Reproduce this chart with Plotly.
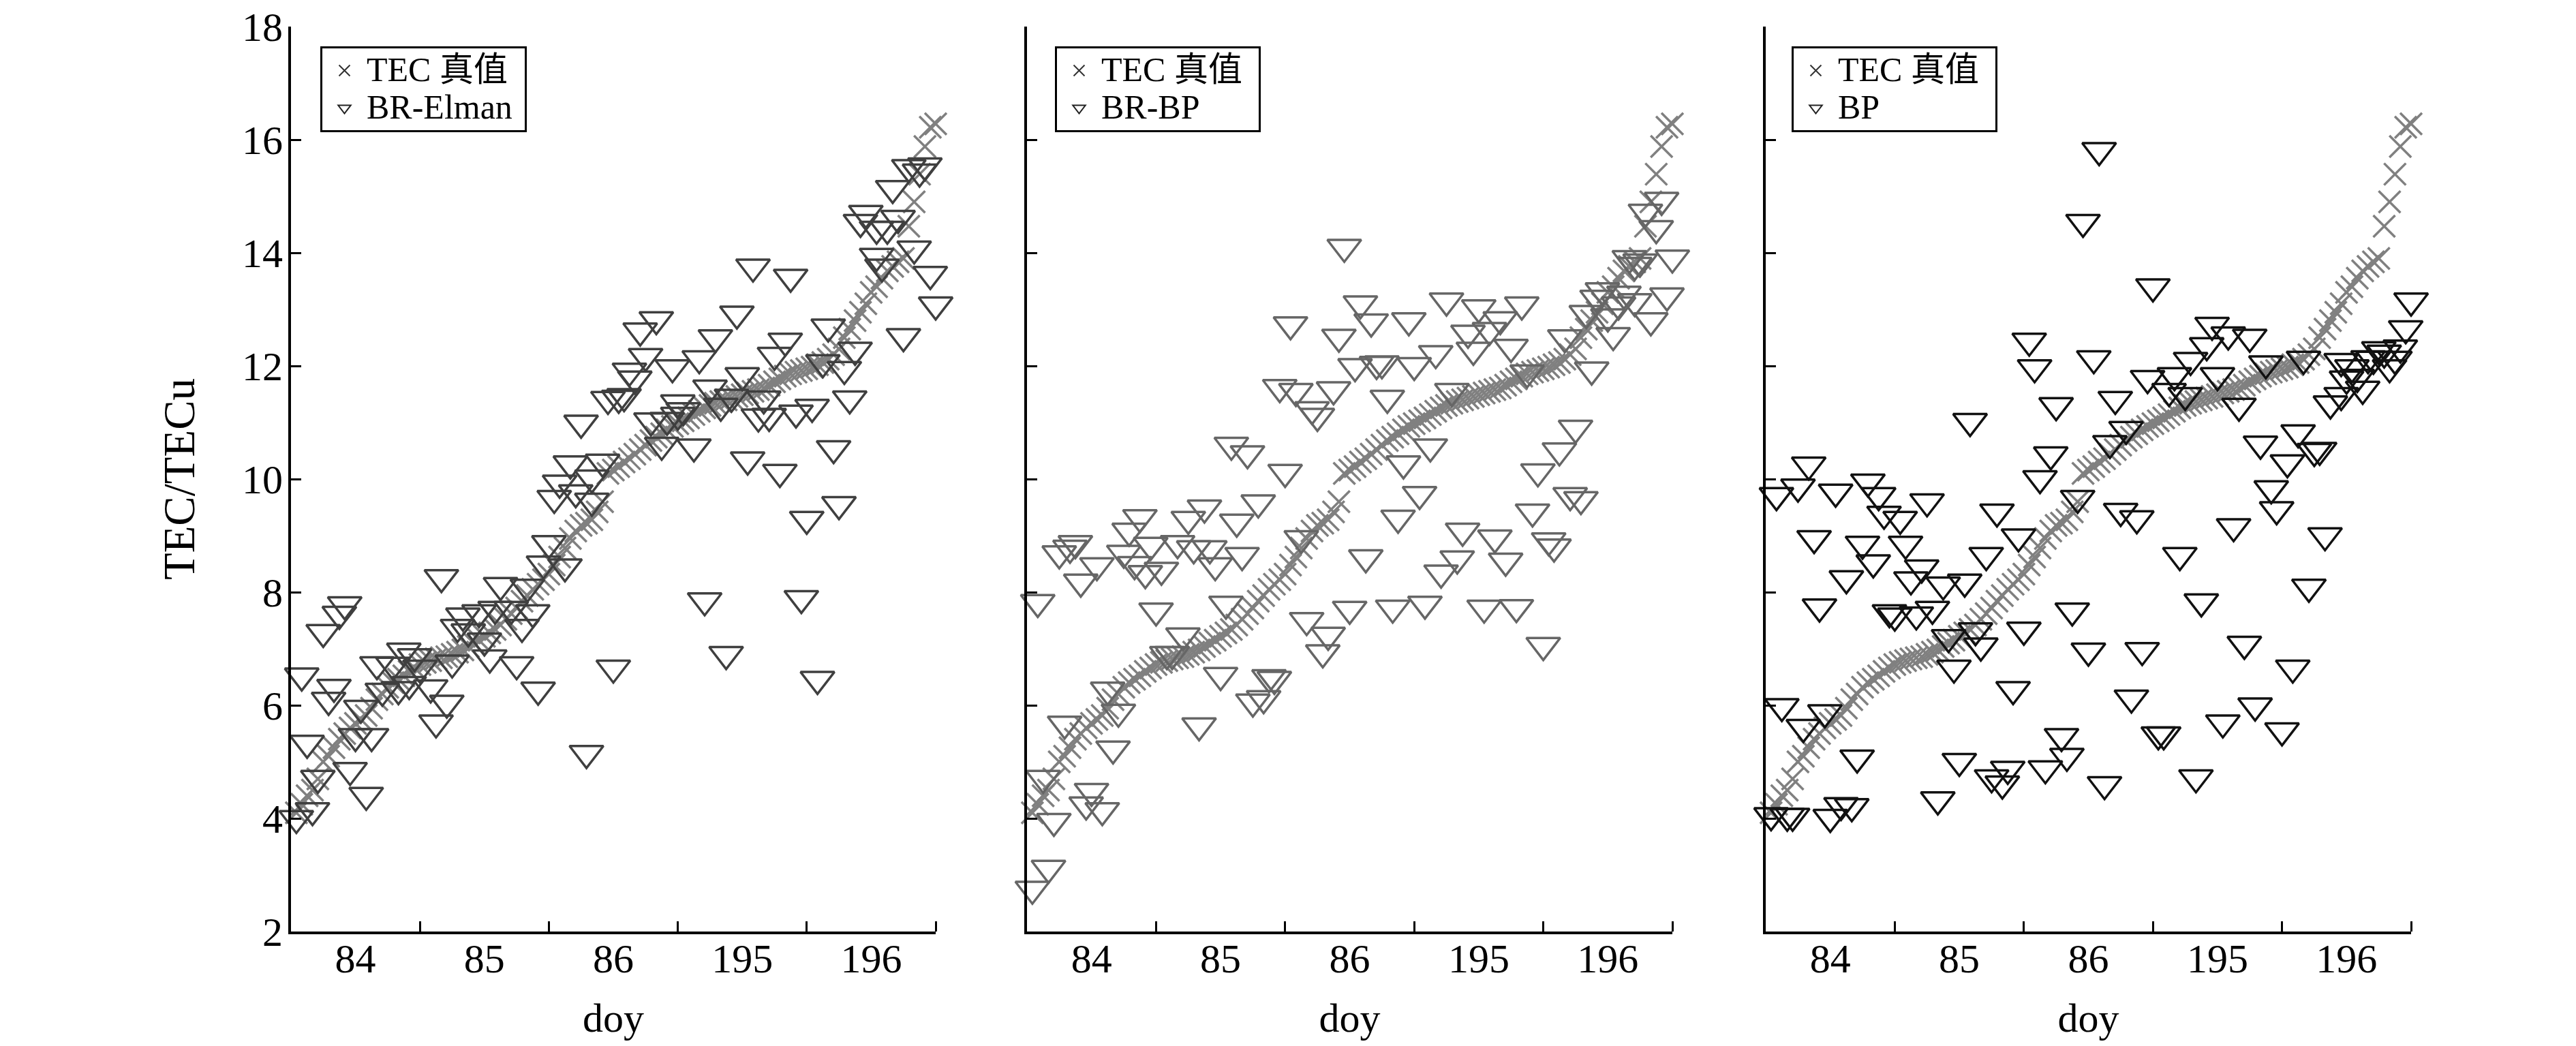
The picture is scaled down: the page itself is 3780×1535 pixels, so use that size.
import plotly.graph_objects as go

FONT = "Liberation Serif, Noto Sans CJK SC"
DAY_LABELS = ["84", "85", "86", "195", "196"]
Y_TICKS = [2, 4, 6, 8, 10, 12, 14, 16, 18]
TRUE_NAME = "TEC 真值"
MODEL_NAMES = ["BR-Elman", "BR-BP", "BP"]

tec_hours = list(range(1, 121))
tec_values = [
    4.1, 4.25, 4.4, 4.5, 4.7, 5.0, 5.1, 5.25, 5.4, 5.5, 5.6, 5.68, 5.75, 5.82, 5.95, 6.1, 6.2, 6.32, 6.4, 6.46,
    6.52, 6.6, 6.66, 6.72, 6.76, 6.79, 6.82, 6.84, 6.86, 6.9, 6.94, 6.98, 7.04, 7.1, 7.15, 7.22, 7.28, 7.34, 7.42, 7.52,
    7.62, 7.72, 7.84, 7.94, 8.05, 8.14, 8.22, 8.32, 8.48, 8.62, 8.78, 8.95, 9.08, 9.18, 9.22, 9.28, 9.42, 9.6, 10.1, 10.16,
    10.22, 10.3, 10.36, 10.44, 10.52, 10.6, 10.68, 10.74, 10.8, 10.87, 10.93, 10.98, 11.03, 11.08, 11.14, 11.2, 11.26, 11.3, 11.34, 11.37,
    11.4, 11.43, 11.46, 11.49, 11.52, 11.55, 11.58, 11.61, 11.66, 11.72, 11.77, 11.82, 11.86, 11.89, 11.92, 11.95, 11.98, 12.02, 12.06, 12.12,
    12.2, 12.3, 12.5, 12.65, 12.8, 12.95, 13.1, 13.3, 13.4, 13.55, 13.68, 13.76, 13.84, 13.9, 14.47, 14.9, 15.39, 15.88, 16.22, 16.28,
]

elman_hours = [
    86, 93, 83, 68, 65, 79, 100, 92, 76, 90, 66, 63, 64, 71, 84, 99, 105, 103, 104, 78,
    72, 80, 82, 88, 73, 62, 61, 59, 54, 67, 70, 72, 87, 89, 94, 97, 69, 75, 85, 91,
    101, 52, 58, 56, 50, 53, 49, 56, 96, 102, 118, 115, 117, 112, 107, 106, 113, 109, 111, 116,
    109, 110, 119, 120, 114, 48, 47, 51, 28, 39, 44, 10, 9, 6, 32, 35, 38, 41, 45, 31,
    33, 36, 43, 37, 42, 46, 21, 23, 16, 19, 24, 30, 2, 8, 7, 17, 20, 22, 26, 29,
    13, 3, 12, 15, 27, 5, 11, 14, 4, 1, 77, 95, 81, 98, 60, 55,
]
elman_values = [
    13.75, 13.57, 12.92, 12.82, 12.62, 12.5, 12.69, 12.44, 12.13, 12.19, 12.17, 11.91, 11.77, 11.97, 11.83, 12.06, 12.28, 11.94, 11.42, 11.61,
    11.35, 11.29, 11.45, 11.42, 11.21, 11.46, 11.43, 11.41, 10.99, 11.03, 11.04, 11.13, 11.1, 11.11, 11.17, 11.27, 10.6, 10.57, 10.34, 10.12,
    10.54, 10.27, 10.3, 10.02, 9.93, 9.76, 9.66, 9.61, 9.29, 9.55, 15.54, 15.51, 15.43, 15.14, 14.7, 14.54, 14.61, 14.42, 14.42, 14.07,
    13.94, 13.75, 13.62, 13.08, 12.52, 8.86, 8.5, 8.45, 8.26, 8.12, 8.09, 7.78, 7.61, 7.29, 7.58, 7.64, 7.7, 7.7, 7.64, 7.38,
    7.3, 7.14, 7.38, 6.84, 6.72, 6.27, 6.96, 6.86, 6.72, 6.71, 6.66, 6.75, 6.52, 6.32, 6.09, 6.25, 6.28, 6.37, 6.31, 6.04,
    5.95, 5.33, 5.45, 5.45, 5.69, 4.71, 4.85, 4.41, 4.14, 4.0, 7.85, 7.89, 6.9, 6.46, 6.66, 5.15,
]

brbp_hours = [
    59, 62, 64, 71, 49, 58, 78, 84, 92, 88, 86, 82, 83, 76, 90, 61, 65, 66, 72, 93,
    100, 105, 47, 50, 57, 67, 79, 53, 54, 102, 99, 75, 38, 41, 48, 70, 95, 73, 101, 103,
    43, 33, 94, 21, 30, 39, 69, 118, 115, 117, 112, 114, 120, 113, 119, 107, 106, 111, 113, 110,
    104, 108, 116, 109, 81, 87, 97, 98, 89, 80, 77, 63, 60, 68, 74, 85, 91, 96, 52, 56,
    55, 51, 2, 9, 8, 6, 13, 10, 19, 18, 23, 28, 31, 34, 20, 22, 25, 35, 40, 37,
    24, 29, 26, 27, 36, 45, 46, 42, 44, 32, 17, 15, 7, 16, 3, 12, 11, 14, 5, 4, 1,
]
brbp_values = [
    14.1, 13.1, 12.78, 12.8, 12.73, 12.51, 13.15, 13.03, 13.08, 12.82, 12.63, 12.58, 12.28, 12.22, 12.33, 11.99, 12.03, 12.04, 12.01, 11.88,
    12.5, 11.93, 11.62, 11.55, 11.58, 11.43, 11.55, 11.23, 11.11, 10.9, 10.5, 10.57, 10.6, 10.45, 10.12, 10.27, 10.13, 9.73, 9.71, 9.64,
    9.58, 9.49, 9.42, 9.32, 9.29, 9.24, 9.31, 14.93, 14.72, 14.43, 13.9, 13.84, 13.91, 13.78, 13.24, 13.33, 13.2, 13.27, 13.14, 13.08,
    12.93, 12.87, 12.8, 12.54, 9.08, 8.96, 8.91, 8.8, 8.55, 8.59, 8.34, 8.61, 7.7, 7.72, 7.79, 7.72, 7.73, 7.06, 7.5, 7.24,
    6.93, 8.95, 7.82, 8.86, 8.78, 8.68, 8.47, 8.18, 9.08, 8.69, 8.83, 8.86, 8.77, 8.77, 8.49, 8.33, 8.39, 8.47, 8.65, 7.79,
    7.67, 7.23, 6.9, 6.9, 6.53, 6.49, 6.46, 6.06, 6.12, 5.64, 5.88, 6.27, 5.67, 5.23, 4.71, 4.48, 4.24, 4.14, 3.95, 3.12, 2.75,
]

bp_hours = [
    62, 59, 72, 120, 119, 49, 83, 86, 90, 82, 50, 61, 79, 71, 76, 93, 84, 100, 107, 109,
    112, 114, 115, 118, 113, 117, 116, 110, 108, 111, 107, 105, 54, 65, 75, 78, 88, 38, 67, 64,
    53, 99, 92, 97, 103, 102, 51, 8, 6, 2, 13, 19, 21, 30, 94, 95, 58, 43, 66, 69,
    22, 25, 9, 18, 26, 20, 29, 47, 41, 87, 104, 77, 101, 15, 27, 33, 37, 81, 10, 23,
    24, 28, 31, 57, 34, 39, 40, 48, 60, 70, 89, 35, 98, 46, 68, 3, 11, 7, 91, 85,
    96, 55, 73, 74, 56, 17, 36, 45, 52, 42, 44, 63, 80, 32, 1, 4, 5, 12, 14, 16,
]
bp_values = [
    15.81, 14.54, 13.4, 13.15, 12.66, 12.44, 12.72, 12.55, 12.51, 12.36, 11.97, 12.13, 12.1, 11.78, 11.83, 12.04, 11.83, 12.12, 12.08, 11.97,
    12.13, 12.29, 12.23, 12.32, 12.12, 12.12, 11.97, 11.8, 11.77, 11.59, 11.48, 11.33, 11.3, 11.41, 11.55, 11.48, 11.29, 11.02, 10.88, 10.63,
    10.43, 10.82, 10.62, 10.29, 10.51, 10.49, 10.01, 10.25, 9.86, 9.71, 9.77, 9.95, 9.71, 9.6, 9.83, 9.46, 9.66, 9.42, 9.43, 9.3,
    9.38, 9.29, 8.95, 8.85, 8.85, 8.52, 8.43, 8.98, 8.65, 9.16, 9.0, 8.65, 8.09, 8.24, 8.22, 8.13, 8.18, 7.83, 7.74, 7.64,
    7.58, 7.6, 7.7, 7.67, 7.2, 7.32, 7.05, 7.33, 6.96, 6.97, 7.08, 6.66, 6.66, 6.28, 6.13, 5.98, 5.87, 5.61, 5.99, 5.69,
    5.55, 5.45, 5.48, 5.48, 5.1, 5.07, 5.01, 4.87, 4.88, 4.72, 4.61, 4.6, 4.72, 4.33, 4.05, 4.04, 4.04, 4.02, 4.23, 4.21,
]

model_hours = [elman_hours, brbp_hours, bp_hours]
model_values = [elman_values, brbp_values, bp_values]
model_colors = ["#3f3f3f", "#666666", "#111111"]

W, H = 3780, 1535
OFF = 8  # the page body's default margin
panel_x = [(427 - OFF, 1373 - OFF), (1507 - OFF, 2454 - OFF), (2591 - OFF, 3538 - OFF)]
legend_x = [470 - OFF, 1548 - OFF, 2629 - OFF]
top_px, bottom_px, legend_top_px = 39 - OFF, 1367 - OFF, 68 - OFF
# trailing no-break padding that widens each legend box to the reference's width
pad_true = ["", '<span style="font-size:38px">&nbsp;&nbsp;</span>', '<span style="font-size:38px">&nbsp;&nbsp;</span>']
pad_model = ['<span style="font-size:50px">&nbsp;</span>', "", ""]


def legend_label(text, pad=""):
    return f'<span style="font-size:50px">{text}</span>{pad}'


fig = go.Figure()
layout = dict(
    width=W, height=H, margin=dict(l=0, r=0, t=0, b=0, autoexpand=False),
    paper_bgcolor="white", plot_bgcolor="white", autosize=False,
    font=dict(family=FONT, size=60, color="black"),
)

for i, (hours, vals, color, name) in enumerate(zip(model_hours, model_values, model_colors, MODEL_NAMES)):
    s = "" if i == 0 else str(i + 1)
    xa, ya = "x" + s, "y" + s
    lg = "legend" + s
    fig.add_trace(go.Scatter(x=tec_hours, y=tec_values, mode="markers", xaxis=xa, yaxis=ya, showlegend=False,
                             cliponaxis=False,
                             marker=dict(symbol="x-thin-open", size=32, color="#808080",
                                         line=dict(color="#808080", width=3.5))))
    fig.add_trace(go.Scatter(x=hours, y=vals, mode="markers", xaxis=xa, yaxis=ya, showlegend=False,
                             cliponaxis=False,
                             marker=dict(symbol="triangle-down-open", size=43, color=color,
                                         line=dict(color=color, width=3.5))))
    fig.add_trace(go.Scatter(x=[None], y=[None], mode="markers", xaxis=xa, yaxis=ya,
                             name=legend_label(TRUE_NAME, pad_true[i]), legend=lg,
                             marker=dict(symbol="x-thin-open", size=17, color="#333333",
                                         line=dict(color="#333333", width=2))))
    fig.add_trace(go.Scatter(x=[None], y=[None], mode="markers", xaxis=xa, yaxis=ya,
                             name=legend_label(name, pad_model[i]), legend=lg,
                             marker=dict(symbol="triangle-down-open", size=23, color="#222222",
                                         line=dict(color="#222222", width=2))))
    x0, x1 = panel_x[i]
    layout["xaxis" + s] = dict(
        domain=[x0 / W, x1 / W], range=[0, 120], anchor=ya, showgrid=False, zeroline=False,
        showline=True, linewidth=4, linecolor="black",
        tickmode="array", tickvals=[12, 36, 60, 84, 108], ticktext=DAY_LABELS, ticks="", ticklabelstandoff=-16,
        tickfont=dict(size=60), ticklabeloverflow="allow",
        minor=dict(tickmode="array", tickvals=[24, 48, 72, 96, 120], ticks="inside", ticklen=15, tickwidth=3,
                   tickcolor="black", showgrid=False),
        title=dict(text="doy", font=dict(size=60), standoff=34),
    )
    yaxis = dict(
        domain=[1 - bottom_px / H, 1 - top_px / H], range=[2, 18], anchor=xa, showgrid=False, zeroline=False,
        showline=True, linewidth=4, linecolor="black",
        tickmode="array", tickvals=Y_TICKS, ticks="inside", ticklen=15, tickwidth=3, tickcolor="black",
        tickfont=dict(size=60), showticklabels=(i == 0), ticklabelstandoff=-4, ticklabeloverflow="allow",
    )
    if i == 0:
        yaxis["title"] = dict(text="TEC/TECu", font=dict(size=65), standoff=49)
    layout["yaxis" + s] = yaxis
    layout[lg] = dict(x=legend_x[i] / W, y=1 - legend_top_px / H, xanchor="left", yanchor="top", xref="paper", yref="paper",
                      bordercolor="black", borderwidth=3, bgcolor="white", font=dict(size=40, family=FONT),
                      itemwidth=55, traceorder="normal", itemclick=False)

fig.update_layout(**layout)
fig.write_html("out.html")
